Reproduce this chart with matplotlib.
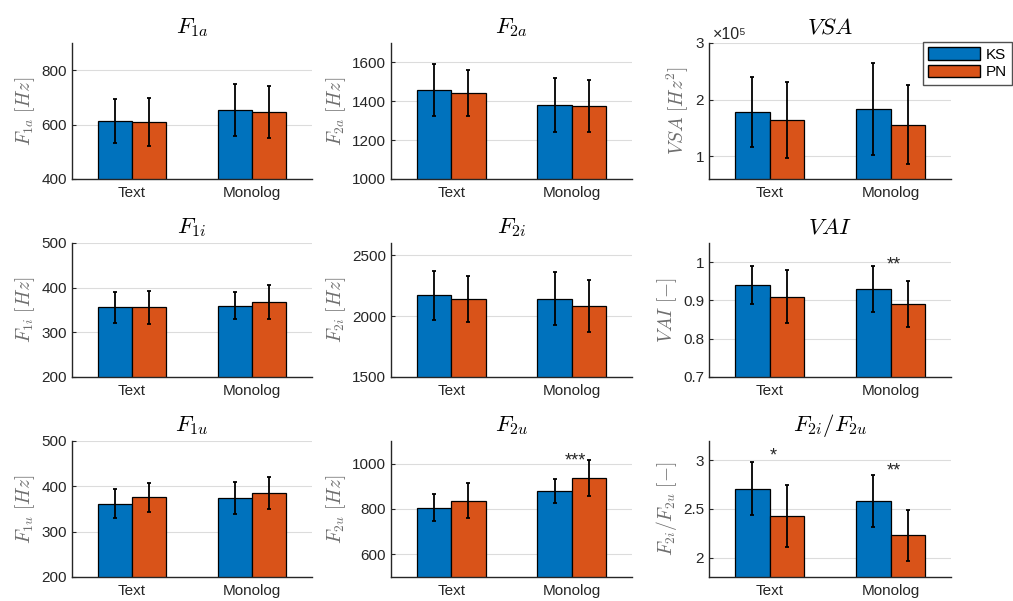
import matplotlib
matplotlib.use("Agg")
import matplotlib.pyplot as plt
from matplotlib.patches import Patch
from matplotlib.ticker import FuncFormatter
import numpy as np

plt.rcParams['font.family'] = ['Liberation Sans', 'DejaVu Sans']
plt.rcParams['mathtext.fontset'] = 'cm'

groups = ['Text', 'Monolog']
speakers = ['KS', 'PN']

# means and standard deviations (Text, Monolog)
f1a_ks = [614, 653]
f1a_ks_sd = [81, 95]
f1a_pn = [609, 646]
f1a_pn_sd = [88, 97]

f2a_ks = [1458, 1381]
f2a_ks_sd = [132, 138]
f2a_pn = [1443, 1376]
f2a_pn_sd = [118, 136]

vsa_ks = [1.78e5, 1.84e5]
vsa_ks_sd = [0.62e5, 0.81e5]
vsa_pn = [1.64e5, 1.56e5]
vsa_pn_sd = [0.665e5, 0.69e5]

f1i_ks = [356, 360]
f1i_ks_sd = [34, 30.5]
f1i_pn = [356, 368]
f1i_pn_sd = [37, 38.5]

f2i_ks = [2170, 2143]
f2i_ks_sd = [200, 220]
f2i_pn = [2140, 2084]
f2i_pn_sd = [186, 212]

vai_ks = [0.94, 0.93]
vai_ks_sd = [0.05, 0.06]
vai_pn = [0.91, 0.89]
vai_pn_sd = [0.07, 0.06]

f1u_ks = [362, 374]
f1u_ks_sd = [32, 35]
f1u_pn = [375.5, 386]
f1u_pn_sd = [32.5, 35]

f2u_ks = [806, 880]
f2u_ks_sd = [58, 54]
f2u_pn = [837, 937]
f2u_pn_sd = [77, 79]

ratio_ks = [2.71, 2.58]
ratio_ks_sd = [0.27, 0.27]
ratio_pn = [2.43, 2.23]
ratio_pn_sd = [0.32, 0.264]

titles = [r'$F_{1a}$', r'$F_{2a}$', r'$VSA$',
          r'$F_{1i}$', r'$F_{2i}$', r'$VAI$',
          r'$F_{1u}$', r'$F_{2u}$', r'$F_{2i}/F_{2u}$']
ylabels = [r'$F_{1a}\ [Hz]$', r'$F_{2a}\ [Hz]$', r'$VSA\ [Hz^2]$',
           r'$F_{1i}\ [Hz]$', r'$F_{2i}\ [Hz]$', r'$VAI\ [-]$',
           r'$F_{1u}\ [Hz]$', r'$F_{2u}\ [Hz]$', r'$F_{2i}/F_{2u}\ [-]$']
ylims = [(400, 900), (1000, 1700), (0.6e5, 3e5),
         (200, 500), (1500, 2600), (0.7, 1.05),
         (200, 500), (500, 1100), (1.8, 3.2)]
yticks = [[400, 600, 800], [1000, 1200, 1400, 1600], [1e5, 2e5, 3e5],
          [200, 300, 400, 500], [1500, 2000, 2500], [0.7, 0.8, 0.9, 1.0],
          [200, 300, 400, 500], [600, 800, 1000], [2, 2.5, 3]]

ks_means = [f1a_ks, f2a_ks, vsa_ks, f1i_ks, f2i_ks, vai_ks, f1u_ks, f2u_ks, ratio_ks]
ks_sds = [f1a_ks_sd, f2a_ks_sd, vsa_ks_sd, f1i_ks_sd, f2i_ks_sd, vai_ks_sd,
          f1u_ks_sd, f2u_ks_sd, ratio_ks_sd]
pn_means = [f1a_pn, f2a_pn, vsa_pn, f1i_pn, f2i_pn, vai_pn, f1u_pn, f2u_pn, ratio_pn]
pn_sds = [f1a_pn_sd, f2a_pn_sd, vsa_pn_sd, f1i_pn_sd, f2i_pn_sd, vai_pn_sd,
          f1u_pn_sd, f2u_pn_sd, ratio_pn_sd]

# significance marks: (panel index, group index, label, y value)
stars = [(5, 1, '**', 0.993), (7, 1, '***', 1010), (8, 0, '*', 3.05), (8, 1, '**', 2.89)]

blue = '#0072BD'
orange = '#D95319'
dark = '#262626'

W, H = 1013, 601
fig = plt.figure(figsize=(W / 100, H / 100), dpi=100)

col_px = [(72, 312), (391, 632), (709, 951)]
row_px = [(43, 179), (243, 377), (441, 577)]

x = np.arange(1, len(groups) + 1)
bw = 0.2857

axes = []
for i in range(9):
    r, c = divmod(i, 3)
    l, rr = col_px[c]
    t, b = row_px[r]
    ax = fig.add_axes([l / W, 1 - b / H, (rr - l) / W, (b - t) / H])
    axes.append(ax)

    ax.bar(x - bw / 2, ks_means[i], bw, color=blue, edgecolor='black', linewidth=0.9, zorder=2)
    ax.bar(x + bw / 2, pn_means[i], bw, color=orange, edgecolor='black', linewidth=0.9, zorder=2)
    ax.errorbar(x - bw / 2, ks_means[i], yerr=ks_sds[i], fmt='none', ecolor='black',
                elinewidth=1.3, capsize=1.5, capthick=1.3, zorder=3)
    ax.errorbar(x + bw / 2, pn_means[i], yerr=pn_sds[i], fmt='none', ecolor='black',
                elinewidth=1.3, capsize=1.5, capthick=1.3, zorder=3)

    ax.set_xlim(0.5, 2.5)
    ax.set_ylim(*ylims[i])
    ax.set_xticks(x)
    ax.set_xticklabels(groups)
    ax.set_yticks(yticks[i])
    if i == 2:
        ax.yaxis.set_major_formatter(FuncFormatter(lambda v, p: f'{v / 1e5:g}'))
        ax.text(0.015, 1.01, '×10⁵', transform=ax.transAxes, fontsize=11.5, color=dark,
                ha='left', va='bottom', family=['Liberation Sans', 'DejaVu Sans'])
    else:
        ax.yaxis.set_major_formatter(FuncFormatter(lambda v, p: f'{v:g}'))

    ax.grid(axis='y', color='#dcdcdc', linewidth=0.8, zorder=0)
    ax.set_axisbelow(True)
    for s in ['top', 'right']:
        ax.spines[s].set_visible(False)
    for s in ['left', 'bottom']:
        ax.spines[s].set_color(dark)
        ax.spines[s].set_linewidth(1.0)
    ax.tick_params(direction='in', length=3, width=0.8, colors=dark, labelsize=11)
    ax.tick_params(axis='x', pad=5)

    ax.set_title(titles[i], fontsize=16.5, pad=7, color='black')
    ax.set_ylabel(ylabels[i], fontsize=14, color='#6e6e6e', labelpad=3)

for pi, gi, lab, yv in stars:
    axes[pi].text(x[gi] + 0.03, yv, lab, ha='center', va='center', fontsize=13, color=dark)

fig.legend(handles=[Patch(facecolor=blue, edgecolor='black', label=speakers[0]),
                    Patch(facecolor=orange, edgecolor='black', label=speakers[1])],
           loc='upper right', bbox_to_anchor=(1012 / W, 1 - 42 / H),
           frameon=True, fancybox=False, edgecolor=dark, fontsize=11,
           handlelength=3.4, handleheight=0.85, handletextpad=0.35,
           borderpad=0.35, labelspacing=0.2, borderaxespad=0.0)

fig.savefig('out.png', dpi=100)
